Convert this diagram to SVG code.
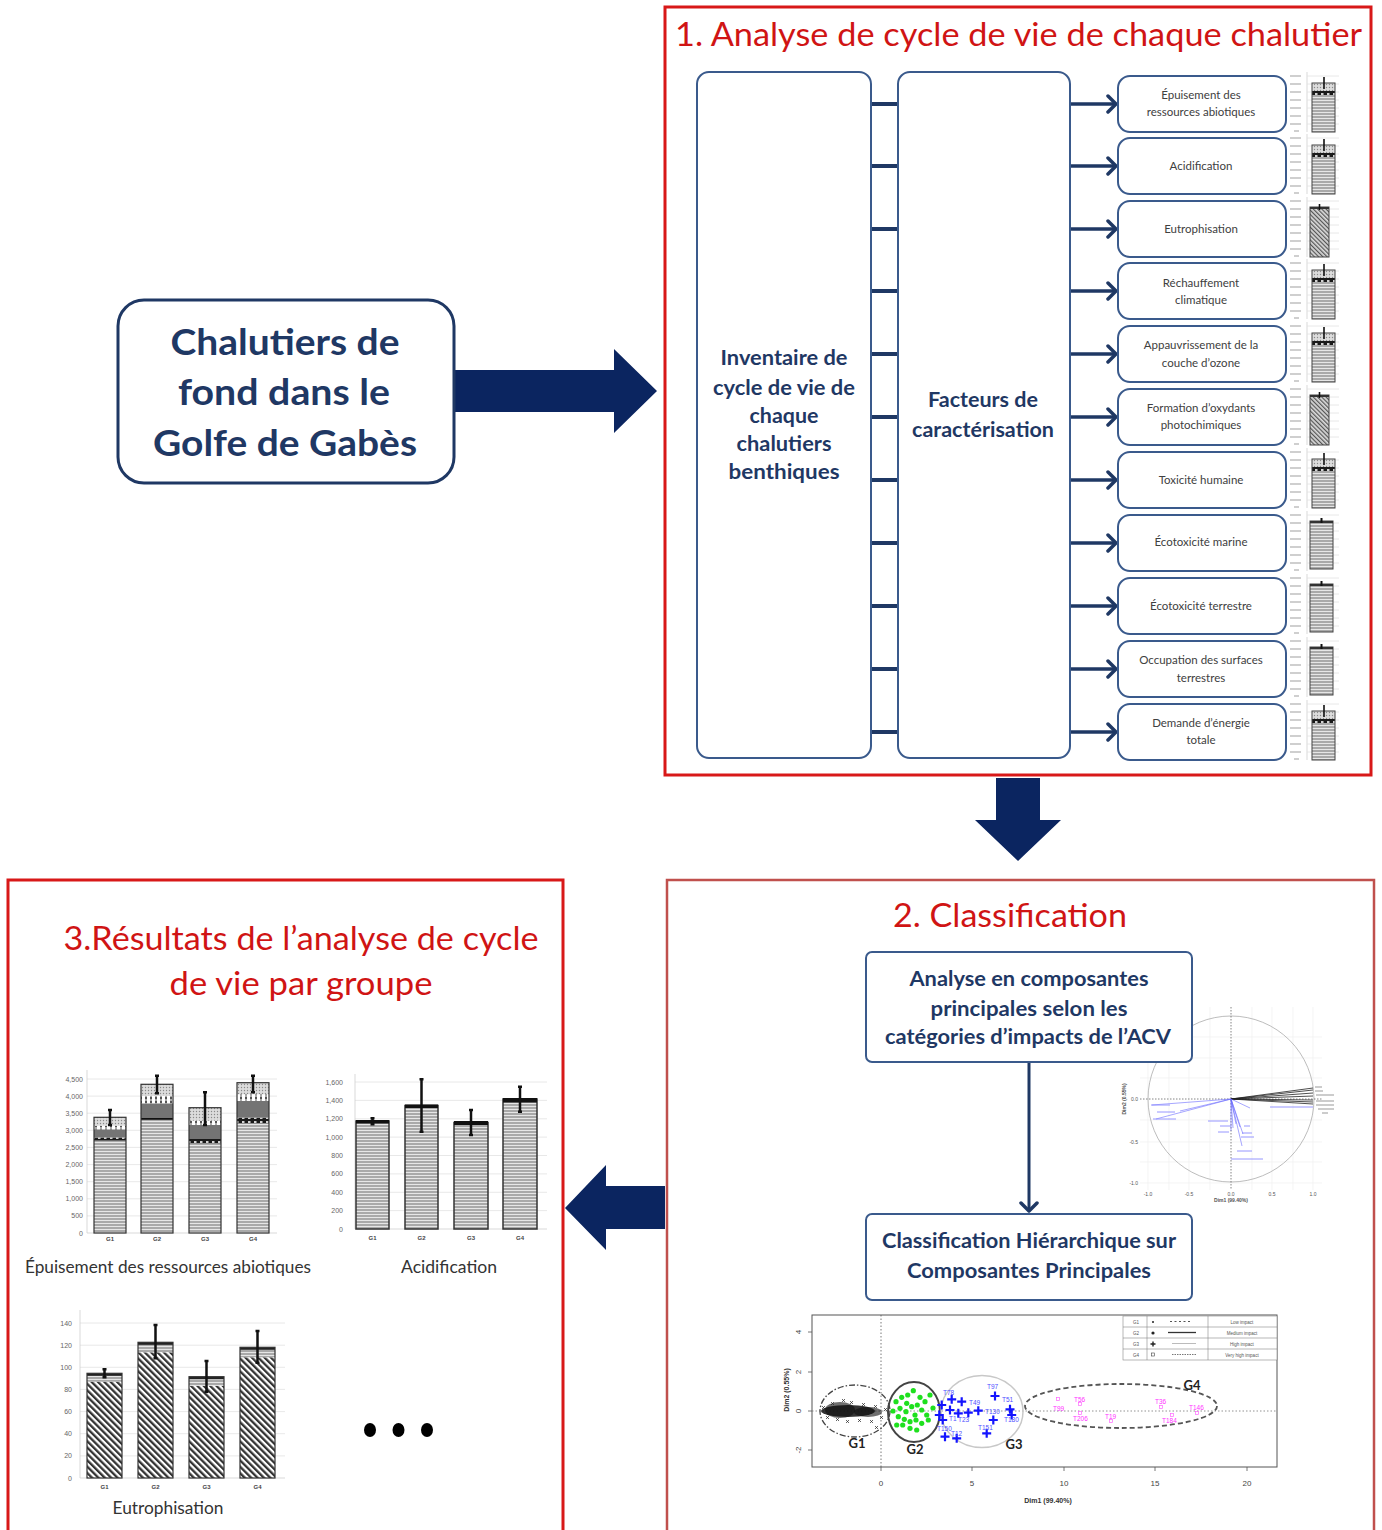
<svg xmlns="http://www.w3.org/2000/svg" width="1382" height="1530" viewBox="0 0 1382 1530">
<style>
.cal{font-family:Lato,"Liberation Sans",sans-serif}
.title{font-family:Lato,"Liberation Sans",sans-serif;fill:#d01414;font-size:32px}
.frameR{fill:none;stroke:#d81818;stroke-width:3}
.frameB{fill:none;stroke:#c0504d;stroke-width:2.5}
.nb{fill:#fff;stroke:#3a5a8c;stroke-width:2}
.nbt{font-family:Lato,"Liberation Sans",sans-serif;font-weight:bold;fill:#1f3864;text-anchor:middle}
.imp{font-family:Lato,"Liberation Sans",sans-serif;fill:#404040;font-size:11.5px;text-anchor:middle}
.conn{stroke:#1f3864;stroke-width:4;fill:none}
.arr{stroke:#1f3864;stroke-width:3.5;fill:none;marker-end:url(#chev)}
.big{fill:#0b2560}
.grid{stroke:#e2e2e2;stroke-width:0.8}
.ax{stroke:#cfcfcf;stroke-width:0.8}
.tl{font-family:"Liberation Sans",sans-serif;font-size:7px;fill:#666;text-anchor:end}
.xl{font-family:"Liberation Sans",sans-serif;font-size:6px;fill:#444;text-anchor:middle;font-weight:bold}
.cap{font-family:Lato,"Liberation Sans",sans-serif;font-size:17px;fill:#333;text-anchor:middle}
.err{stroke:#111;stroke-width:2.5}
.bo{fill:none;stroke:#333;stroke-width:1.2}
.mt{fill:#c4c4c4}
.tiny{font-family:"Liberation Sans",sans-serif;font-size:5px;fill:#555}
</style>
<defs>
<marker id="chev" viewBox="0 0 12 20" refX="10" refY="10" markerWidth="12" markerHeight="20" markerUnits="userSpaceOnUse" orient="auto">
<path d="M2,2 L10,10 L2,18" fill="none" stroke="#1f3864" stroke-width="3.5" stroke-linecap="round" stroke-linejoin="round"/>
</marker>
<pattern id="hs" width="4" height="3" patternUnits="userSpaceOnUse"><rect width="4" height="3" fill="#a9a9a9"/><rect y="2" width="4" height="1" fill="#e6e6e6"/></pattern>
<pattern id="diag" width="4.5" height="4.5" patternUnits="userSpaceOnUse" patternTransform="rotate(-45)"><rect width="4.5" height="4.5" fill="#fff"/><rect width="2.3" height="4.5" fill="#333"/></pattern>
<pattern id="diagS" width="3" height="3" patternUnits="userSpaceOnUse" patternTransform="rotate(-45)"><rect width="3" height="3" fill="#d8d8d8"/><rect width="1.2" height="3" fill="#555"/></pattern>
<pattern id="dots" width="3" height="3" patternUnits="userSpaceOnUse"><rect width="3" height="3" fill="#dcdcdc"/><circle cx="1.5" cy="1.5" r="0.7" fill="#8a8a8a"/></pattern>
<pattern id="wd" width="5" height="4" patternUnits="userSpaceOnUse"><rect width="5" height="4" fill="#fff"/><rect x="0" y="0.5" width="2" height="3" fill="#555"/></pattern>
<pattern id="bd" width="6" height="4" patternUnits="userSpaceOnUse"><rect width="6" height="4" fill="#1a1a1a"/><rect x="2" y="1.2" width="2.5" height="1.6" fill="#fff"/></pattern>
<g id="mticks">
<line class="ax" x1="0" y1="-32" x2="0" y2="28"/>
<g class="grid"><line x1="0" y1="-28" x2="32" y2="-28"/><line x1="0" y1="-20" x2="32" y2="-20"/><line x1="0" y1="-12" x2="32" y2="-12"/><line x1="0" y1="-4" x2="32" y2="-4"/><line x1="0" y1="4" x2="32" y2="4"/><line x1="0" y1="12" x2="32" y2="12"/><line x1="0" y1="20" x2="32" y2="20"/></g>
<g class="mt"><rect x="-17" y="-28.8" width="11" height="1.6"/><rect x="-17" y="-20.8" width="11" height="1.6"/><rect x="-17" y="-12.8" width="11" height="1.6"/><rect x="-17" y="-4.8" width="11" height="1.6"/><rect x="-17" y="3.2" width="11" height="1.6"/><rect x="-17" y="11.2" width="11" height="1.6"/><rect x="-17" y="19.2" width="11" height="1.6"/><rect x="-13" y="26.2" width="5" height="1.6"/></g>
</g>
<g id="barS">
<use href="#mticks"/>
<rect x="5" y="-21" width="23" height="49" fill="url(#hs)"/>
<rect x="5" y="-21" width="23" height="8" fill="url(#dots)"/>
<rect x="5" y="-13" width="23" height="4" fill="url(#bd)"/>
<rect x="5" y="-21" width="23" height="49" fill="none" stroke="#444" stroke-width="1"/>
<line x1="17" y1="-27" x2="17" y2="-15" stroke="#111" stroke-width="1.6"/>
</g>
<g id="barH">
<use href="#mticks"/>
<rect x="3" y="-22" width="19" height="50" fill="url(#diagS)" stroke="#444" stroke-width="1"/>
<rect x="3" y="-22" width="19" height="2" fill="#333"/>
<line x1="12.5" y1="-25" x2="12.5" y2="-19" stroke="#111" stroke-width="1.6"/>
</g>
<g id="barP">
<use href="#mticks"/>
<rect x="3" y="-22" width="23" height="48" fill="url(#hs)" stroke="#444" stroke-width="1"/>
<rect x="3" y="-22" width="23" height="2" fill="#333"/>
<line x1="14.5" y1="-25" x2="14.5" y2="-20" stroke="#111" stroke-width="2"/>
</g>
</defs>
<rect width="1382" height="1530" fill="#fff"/>

<!-- Frames -->
<g id="frame1">
<rect class="frameR" x="665" y="7" width="706" height="768"/>
<text class="title" x="675" y="46" textLength="687" lengthAdjust="spacingAndGlyphs">1. Analyse de cycle de vie de chaque chalutier</text>
</g>
<g id="frame2">
<rect class="frameB" x="667" y="880" width="707" height="700"/>
<text class="title" x="1010" y="927" text-anchor="middle" textLength="234" lengthAdjust="spacingAndGlyphs">2. Classification</text>
</g>
<g id="frame3">
<rect class="frameR" x="8" y="880" width="555" height="700"/>
<text class="title" x="301" y="950" text-anchor="middle" textLength="475" lengthAdjust="spacingAndGlyphs">3.Résultats de l’analyse de cycle</text>
<text class="title" x="301" y="995" text-anchor="middle" textLength="263" lengthAdjust="spacingAndGlyphs">de vie par groupe</text>
</g>

<!-- Connectors -->
<g id="connectors">
<polygon class="big" points="454,370 614,370 614,349 657,391 614,433 614,412 454,412"/>
<polygon class="big" points="996,778 1040,778 1040,820 1061,820 1018,861 975,820 996,820"/>
<polygon class="big" points="665,1186 606,1186 606,1165 565,1208 606,1250 606,1229 665,1229"/>
<g class="conn">
<line x1="871" y1="104" x2="898" y2="104"/><line x1="871" y1="166" x2="898" y2="166"/><line x1="871" y1="229" x2="898" y2="229"/><line x1="871" y1="291" x2="898" y2="291"/><line x1="871" y1="354" x2="898" y2="354"/><line x1="871" y1="417" x2="898" y2="417"/><line x1="871" y1="480" x2="898" y2="480"/><line x1="871" y1="543" x2="898" y2="543"/><line x1="871" y1="606" x2="898" y2="606"/><line x1="871" y1="669" x2="898" y2="669"/><line x1="871" y1="732" x2="898" y2="732"/>
</g>
<g class="arr">
<line x1="1070" y1="104" x2="1116" y2="104"/><line x1="1070" y1="166" x2="1116" y2="166"/><line x1="1070" y1="229" x2="1116" y2="229"/><line x1="1070" y1="291" x2="1116" y2="291"/><line x1="1070" y1="354" x2="1116" y2="354"/><line x1="1070" y1="417" x2="1116" y2="417"/><line x1="1070" y1="480" x2="1116" y2="480"/><line x1="1070" y1="543" x2="1116" y2="543"/><line x1="1070" y1="606" x2="1116" y2="606"/><line x1="1070" y1="669" x2="1116" y2="669"/><line x1="1070" y1="732" x2="1116" y2="732"/>
</g>
<line x1="1029" y1="1062" x2="1029" y2="1211" stroke="#1f3864" stroke-width="3" marker-end="url(#chev)"/>
</g>

<!-- Left node -->
<g id="node-chalutiers">
<rect x="118" y="300" width="336" height="183" rx="26" fill="#fff" stroke="#1f3864" stroke-width="3"/>
<text class="nbt" x="285" y="355" font-size="36" textLength="229" lengthAdjust="spacingAndGlyphs">Chalutiers de</text>
<text class="nbt" x="284" y="405" font-size="36" textLength="212" lengthAdjust="spacingAndGlyphs">fond dans le</text>
<text class="nbt" x="285" y="456" font-size="36" textLength="264" lengthAdjust="spacingAndGlyphs">Golfe de Gabès</text>
</g>

<g id="node-inventaire">
<rect class="nb" x="697" y="72" width="174" height="686" rx="12"/>
<text class="nbt" x="784" y="365" font-size="20" textLength="127" lengthAdjust="spacingAndGlyphs">Inventaire de</text>
<text class="nbt" x="784" y="395" font-size="20" textLength="142" lengthAdjust="spacingAndGlyphs">cycle de vie de</text>
<text class="nbt" x="784" y="423" font-size="20" textLength="69" lengthAdjust="spacingAndGlyphs">chaque</text>
<text class="nbt" x="784" y="451" font-size="20" textLength="95" lengthAdjust="spacingAndGlyphs">chalutiers</text>
<text class="nbt" x="784" y="479" font-size="20" textLength="111" lengthAdjust="spacingAndGlyphs">benthiques</text>
</g>
<g id="node-facteurs">
<rect class="nb" x="898" y="72" width="172" height="686" rx="12"/>
<text class="nbt" x="983" y="407" font-size="20" textLength="110" lengthAdjust="spacingAndGlyphs">Facteurs de</text>
<text class="nbt" x="983" y="437" font-size="20" textLength="142" lengthAdjust="spacingAndGlyphs">caractérisation</text>
</g>

<!-- Impact nodes -->
<g id="imp1"><rect class="nb" x="1118" y="76" width="168" height="56" rx="12"/><text class="imp" x="1201" y="99">Épuisement des</text><text class="imp" x="1201" y="116">ressources abiotiques</text></g>
<g id="imp2"><rect class="nb" x="1118" y="138" width="168" height="56" rx="12"/><text class="imp" x="1201" y="170">Acidification</text></g>
<g id="imp3"><rect class="nb" x="1118" y="201" width="168" height="56" rx="12"/><text class="imp" x="1201" y="233">Eutrophisation</text></g>
<g id="imp4"><rect class="nb" x="1118" y="263" width="168" height="56" rx="12"/><text class="imp" x="1201" y="287">Réchauffement</text><text class="imp" x="1201" y="304">climatique</text></g>
<g id="imp5"><rect class="nb" x="1118" y="326" width="168" height="56" rx="12"/><text class="imp" x="1201" y="349">Appauvrissement de la</text><text class="imp" x="1201" y="367">couche d’ozone</text></g>
<g id="imp6"><rect class="nb" x="1118" y="389" width="168" height="56" rx="12"/><text class="imp" x="1201" y="412">Formation d’oxydants</text><text class="imp" x="1201" y="429">photochimiques</text></g>
<g id="imp7"><rect class="nb" x="1118" y="452" width="168" height="56" rx="12"/><text class="imp" x="1201" y="484">Toxicité humaine</text></g>
<g id="imp8"><rect class="nb" x="1118" y="515" width="168" height="56" rx="12"/><text class="imp" x="1201" y="546">Écotoxicité marine</text></g>
<g id="imp9"><rect class="nb" x="1118" y="578" width="168" height="56" rx="12"/><text class="imp" x="1201" y="610">Écotoxicité terrestre</text></g>
<g id="imp10"><rect class="nb" x="1118" y="641" width="168" height="56" rx="12"/><text class="imp" x="1201" y="664">Occupation des surfaces</text><text class="imp" x="1201" y="682">terrestres</text></g>
<g id="imp11"><rect class="nb" x="1118" y="704" width="168" height="56" rx="12"/><text class="imp" x="1201" y="727">Demande d’énergie</text><text class="imp" x="1201" y="744">totale</text></g>

<!-- Mini charts -->
<g id="minicharts">
<use href="#barS" x="1307" y="104"/>
<use href="#barS" x="1307" y="166"/>
<use href="#barH" x="1307" y="229"/>
<use href="#barS" x="1307" y="291"/>
<use href="#barS" x="1307" y="354"/>
<use href="#barH" x="1307" y="417"/>
<use href="#barS" x="1307" y="480"/>
<use href="#barP" x="1307" y="543"/>
<use href="#barP" x="1307" y="606"/>
<use href="#barP" x="1307" y="669"/>
<use href="#barS" x="1307" y="732"/>
</g>

<!-- PCA correlation circle -->
<g id="pca-circle">
<g stroke="#efefef" stroke-width="0.7">
<line x1="1140" y1="1037" x2="1322" y2="1037"/><line x1="1140" y1="1058" x2="1322" y2="1058"/><line x1="1140" y1="1078" x2="1322" y2="1078"/><line x1="1140" y1="1120" x2="1322" y2="1120"/><line x1="1140" y1="1142" x2="1322" y2="1142"/><line x1="1140" y1="1162" x2="1322" y2="1162"/><line x1="1140" y1="1183" x2="1322" y2="1183"/>
<line x1="1148" y1="1007" x2="1148" y2="1190"/><line x1="1169" y1="1007" x2="1169" y2="1190"/><line x1="1189" y1="1007" x2="1189" y2="1190"/><line x1="1210" y1="1007" x2="1210" y2="1190"/><line x1="1252" y1="1007" x2="1252" y2="1190"/><line x1="1272" y1="1007" x2="1272" y2="1190"/><line x1="1293" y1="1007" x2="1293" y2="1190"/><line x1="1313" y1="1007" x2="1313" y2="1190"/>
</g>
<circle cx="1231" cy="1099" r="83" fill="none" stroke="#bdbdbd" stroke-width="1"/>
<line x1="1140" y1="1099" x2="1322" y2="1099" stroke="#666" stroke-width="0.8" stroke-dasharray="1.5,1.5"/>
<line x1="1231" y1="1007" x2="1231" y2="1190" stroke="#666" stroke-width="0.8" stroke-dasharray="1.5,1.5"/>
<g stroke="#222" stroke-width="0.8">
<line x1="1231" y1="1099" x2="1313" y2="1088"/><line x1="1231" y1="1099" x2="1313" y2="1090"/><line x1="1231" y1="1099" x2="1313" y2="1093"/><line x1="1231" y1="1099" x2="1313" y2="1096"/><line x1="1231" y1="1099" x2="1313" y2="1100"/><line x1="1231" y1="1099" x2="1313" y2="1102"/><line x1="1231" y1="1099" x2="1313" y2="1104"/>
</g>
<g stroke="#555" stroke-width="0.6"><line x1="1315" y1="1087" x2="1322" y2="1087"/><line x1="1315" y1="1091" x2="1323" y2="1091"/><line x1="1316" y1="1095" x2="1334" y2="1095"/><line x1="1316" y1="1101" x2="1334" y2="1101"/><line x1="1316" y1="1105" x2="1334" y2="1105"/><line x1="1318" y1="1109" x2="1334" y2="1109"/><line x1="1322" y1="1113" x2="1328" y2="1113"/></g>
<g stroke="#6a6aff" stroke-width="0.6">
<line x1="1231" y1="1099" x2="1152" y2="1105"/><line x1="1231" y1="1099" x2="1180" y2="1111"/><line x1="1231" y1="1099" x2="1156" y2="1119"/>
<line x1="1231" y1="1099" x2="1236" y2="1124"/><line x1="1231" y1="1099" x2="1233" y2="1128"/><line x1="1231" y1="1099" x2="1231" y2="1131"/>
<line x1="1231" y1="1099" x2="1240" y2="1127"/><line x1="1231" y1="1099" x2="1243" y2="1134"/><line x1="1231" y1="1099" x2="1242" y2="1146"/><line x1="1231" y1="1099" x2="1250" y2="1108"/>
</g>
<g stroke="#8a8aff" stroke-width="0.9"><line x1="1151" y1="1105" x2="1170" y2="1105"/><line x1="1157" y1="1112" x2="1175" y2="1112"/><line x1="1153" y1="1119" x2="1176" y2="1119"/><line x1="1208" y1="1121" x2="1228" y2="1121"/><line x1="1220" y1="1126" x2="1231" y2="1126"/><line x1="1218" y1="1132" x2="1229" y2="1132"/><line x1="1244" y1="1126" x2="1250" y2="1126"/><line x1="1242" y1="1133" x2="1252" y2="1133"/><line x1="1241" y1="1137" x2="1254" y2="1137"/><line x1="1237" y1="1151" x2="1252" y2="1151"/><line x1="1231" y1="1159" x2="1263" y2="1159"/><line x1="1270" y1="1107" x2="1313" y2="1107"/></g>
<text class="tiny" x="1148" y="1196" text-anchor="middle">-1.0</text><text class="tiny" x="1189" y="1196" text-anchor="middle">-0.5</text><text class="tiny" x="1231" y="1196" text-anchor="middle">0.0</text><text class="tiny" x="1272" y="1196" text-anchor="middle">0.5</text><text class="tiny" x="1313" y="1196" text-anchor="middle">1.0</text>
<text class="tiny" x="1138" y="1101" text-anchor="end">0.0</text><text class="tiny" x="1138" y="1144" text-anchor="end">-0.5</text><text class="tiny" x="1138" y="1185" text-anchor="end">-1.0</text>
<text class="tiny" x="1231" y="1202" text-anchor="middle" font-weight="bold">Dim1 (99.40%)</text>
<text class="tiny" x="1126" y="1099" text-anchor="middle" font-weight="bold" transform="rotate(-90 1126 1099)">Dim2 (0.55%)</text>
</g>

<g id="node-acp">
<rect class="nb" x="866" y="952" width="326" height="110" rx="6"/>
<text class="nbt" x="1029" y="986" font-size="20" textLength="239" lengthAdjust="spacingAndGlyphs">Analyse en composantes</text>
<text class="nbt" x="1029" y="1016" font-size="20" textLength="197" lengthAdjust="spacingAndGlyphs">principales selon les</text>
<text class="nbt" x="1028" y="1044" font-size="20" textLength="286" lengthAdjust="spacingAndGlyphs">catégories d’impacts  de l’ACV</text>
</g>
<g id="node-chcp">
<rect class="nb" x="866" y="1214" width="326" height="86" rx="6"/>
<text class="nbt" x="1029" y="1248" font-size="20" textLength="294" lengthAdjust="spacingAndGlyphs">Classification Hiérarchique sur</text>
<text class="nbt" x="1029" y="1278" font-size="20" textLength="244" lengthAdjust="spacingAndGlyphs">Composantes Principales</text>
</g>

<!-- Cluster plot -->
<g id="cluster-plot">
<rect x="812" y="1315" width="465" height="152" fill="#fff" stroke="#555" stroke-width="1"/>
<line x1="881" y1="1315" x2="881" y2="1467" stroke="#555" stroke-width="0.8" stroke-dasharray="1.5,2"/>
<line x1="812" y1="1411" x2="1277" y2="1411" stroke="#777" stroke-width="0.8" stroke-dasharray="1.5,2"/>
<g stroke="#555" stroke-width="0.8">
<line x1="881" y1="1467" x2="881" y2="1471"/><line x1="972" y1="1467" x2="972" y2="1471"/><line x1="1064" y1="1467" x2="1064" y2="1471"/><line x1="1155" y1="1467" x2="1155" y2="1471"/><line x1="1247" y1="1467" x2="1247" y2="1471"/>
<line x1="808" y1="1332" x2="812" y2="1332"/><line x1="808" y1="1372" x2="812" y2="1372"/><line x1="808" y1="1411" x2="812" y2="1411"/><line x1="808" y1="1450" x2="812" y2="1450"/>
</g>
<g font-family="Liberation Sans, sans-serif" font-size="8" fill="#444" text-anchor="middle">
<text x="881" y="1486">0</text><text x="972" y="1486">5</text><text x="1064" y="1486">10</text><text x="1155" y="1486">15</text><text x="1247" y="1486">20</text>
<text x="801" y="1332" transform="rotate(-90 801 1332)">4</text><text x="801" y="1372" transform="rotate(-90 801 1372)">2</text><text x="801" y="1411" transform="rotate(-90 801 1411)">0</text><text x="801" y="1450" transform="rotate(-90 801 1450)">-2</text>
</g>
<text x="1048" y="1503" font-family="Liberation Sans, sans-serif" font-size="7" font-weight="bold" fill="#333" text-anchor="middle">Dim1 (99.40%)</text>
<text x="789" y="1390" font-family="Liberation Sans, sans-serif" font-size="7" font-weight="bold" fill="#333" text-anchor="middle" transform="rotate(-90 789 1390)">Dim2 (0.55%)</text>
<!-- legend -->
<g stroke="#888" stroke-width="0.6" fill="none">
<rect x="1123" y="1316" width="154" height="44" fill="#fff"/>
<line x1="1123" y1="1327" x2="1277" y2="1327"/><line x1="1123" y1="1338" x2="1277" y2="1338"/><line x1="1123" y1="1349" x2="1277" y2="1349"/>
<line x1="1147" y1="1316" x2="1147" y2="1360"/><line x1="1208" y1="1316" x2="1208" y2="1360"/>
</g>
<g font-family="Liberation Sans, sans-serif" font-size="4.5" fill="#555">
<text x="1133" y="1323.5">G1</text><text x="1133" y="1334.5">G2</text><text x="1133" y="1345.5">G3</text><text x="1133" y="1356.5">G4</text>
<text x="1242" y="1323.5" text-anchor="middle">Low impact</text><text x="1242" y="1334.5" text-anchor="middle">Medium impact</text><text x="1242" y="1345.5" text-anchor="middle">High impact</text><text x="1242" y="1356.5" text-anchor="middle">Very high impact</text>
</g>
<circle cx="1153" cy="1322" r="1" fill="#222"/><circle cx="1153" cy="1333" r="1.6" fill="#222"/>
<path d="M1153,1341.5 V1346.5 M1150.5,1344 H1155.5" stroke="#222" stroke-width="1.4"/>
<rect x="1151.5" y="1353" width="3" height="3" fill="none" stroke="#444" stroke-width="0.6"/>
<line x1="1170" y1="1321.5" x2="1190" y2="1321.5" stroke="#555" stroke-width="1.2" stroke-dasharray="2,2.5"/>
<line x1="1168" y1="1332.5" x2="1196" y2="1332.5" stroke="#333" stroke-width="1.3"/>
<line x1="1172" y1="1343.5" x2="1196" y2="1343.5" stroke="#aaa" stroke-width="0.8"/>
<line x1="1172" y1="1354.5" x2="1196" y2="1354.5" stroke="#777" stroke-width="1" stroke-dasharray="1.5,1"/>
<!-- ellipses -->
<ellipse cx="855" cy="1411" rx="35" ry="26" fill="none" stroke="#444" stroke-width="1.3" stroke-dasharray="6,2,1.5,2"/>
<ellipse cx="914" cy="1412" rx="26" ry="30" fill="none" stroke="#444" stroke-width="2"/>
<ellipse cx="982" cy="1411.5" rx="41" ry="36" fill="none" stroke="#c8c8c8" stroke-width="1.5"/>
<ellipse cx="1121" cy="1406" rx="96" ry="22" fill="none" stroke="#555" stroke-width="1.8" stroke-dasharray="5,3"/>
<!-- G1 points -->
<g fill="#111">
<ellipse cx="848" cy="1411" rx="27" ry="6" opacity="0.85"/>
<ellipse cx="840" cy="1410" rx="15" ry="8" opacity="0.6"/>
<ellipse cx="868" cy="1412" rx="14" ry="5" opacity="0.6"/>
</g>
<g stroke="#222" stroke-width="0.7">
<path d="M822,1406 l3,3 M825,1406 l-3,3 M831,1402 l3,3 M834,1402 l-3,3 M850,1401 l3,3 M853,1401 l-3,3 M862,1403 l3,3 M865,1403 l-3,3 M874,1405 l3,3 M877,1405 l-3,3 M884,1408 l3,3 M887,1408 l-3,3 M836,1418 l3,3 M839,1418 l-3,3 M846,1420 l3,3 M849,1420 l-3,3 M858,1419 l3,3 M861,1419 l-3,3 M870,1420 l3,3 M873,1420 l-3,3 M880,1416 l3,3 M883,1416 l-3,3 M875,1426 l3,3 M878,1426 l-3,3 M826,1416 l3,3 M829,1416 l-3,3 M842,1399 l3,3 M845,1399 l-3,3"/>
</g>
<!-- G2 points -->
<g fill="#1ee01e">
<circle cx="896" cy="1401.7" r="2.6"/><circle cx="901.7" cy="1397.3" r="2.6"/><circle cx="907.7" cy="1395" r="2.6"/><circle cx="913.3" cy="1390.7" r="2.6"/><circle cx="920" cy="1397.3" r="2.6"/><circle cx="925" cy="1401.7" r="2.6"/><circle cx="930" cy="1395" r="2.6"/><circle cx="900" cy="1408.3" r="2.6"/><circle cx="906" cy="1411.7" r="2.6"/><circle cx="911.7" cy="1406.7" r="2.6"/><circle cx="917.3" cy="1405" r="2.6"/><circle cx="921.7" cy="1410" r="2.6"/><circle cx="926.7" cy="1415" r="2.6"/><circle cx="898.3" cy="1416.7" r="2.6"/><circle cx="904.3" cy="1419.3" r="2.6"/><circle cx="910" cy="1421.7" r="2.6"/><circle cx="916" cy="1420" r="2.6"/><circle cx="921.7" cy="1423.3" r="2.6"/><circle cx="928.3" cy="1420" r="2.6"/><circle cx="902.7" cy="1425" r="2.6"/><circle cx="910" cy="1428.3" r="2.6"/><circle cx="916.7" cy="1430" r="2.6"/><circle cx="896.7" cy="1425" r="2.6"/><circle cx="906.7" cy="1403.3" r="2.6"/><circle cx="915" cy="1415" r="2.6"/><circle cx="893" cy="1411" r="2.6"/><circle cx="933" cy="1408" r="2.6"/>
</g>
<!-- G3 points -->
<g stroke="#1414ff" stroke-width="2.2">
<path d="M951.7,1394.8 v9 M947.2,1399.3 h9 M961.7,1397.2 v9 M957.2,1401.7 h9 M941.7,1400.5 v9 M937.2,1405 h9 M950,1405.5 v9 M945.5,1410 h9 M958.3,1408.8 v9 M953.8,1413.3 h9 M968.3,1408.2 v9 M963.8,1412.7 h9 M978.3,1406.2 v9 M973.8,1410.7 h9 M995,1391.5 v9 M990.5,1396 h9 M1010,1404.8 v9 M1005.5,1409.3 h9 M1011.7,1410.5 v9 M1007.2,1415 h9 M993.3,1415.5 v9 M988.8,1420 h9 M986.7,1428.8 v9 M982.2,1433.3 h9 M956.7,1433.8 v9 M952.2,1438.3 h9 M942.7,1415.5 v9 M938.2,1420 h9 M945,1432.2 v9 M940.5,1436.7 h9 M939.3,1410.5 v9 M934.8,1415 h9"/>
</g>
<g font-family="Liberation Sans, sans-serif" font-size="6.5" fill="#5050ff">
<text x="943" y="1395">T78</text><text x="987" y="1389">T97</text><text x="1002" y="1402">T51</text><text x="969" y="1405">T49</text><text x="958" y="1422">T23</text><text x="985" y="1414">T130</text><text x="1004" y="1422">T180</text><text x="978" y="1430">T151</text><text x="951" y="1436">T12</text><text x="937" y="1431">T150</text><text x="949" y="1421">T1</text>
</g>
<!-- G4 points -->
<g fill="none" stroke="#ff66ff" stroke-width="0.7">
<rect x="1056.5" y="1397.5" width="3" height="3"/><rect x="1078.5" y="1402.5" width="3" height="3"/><rect x="1078.5" y="1411.5" width="3" height="3"/><rect x="1109.5" y="1419.5" width="3" height="3"/><rect x="1159.5" y="1405.5" width="3" height="3"/><rect x="1170.5" y="1413.5" width="3" height="3"/><rect x="1195.5" y="1411.5" width="3" height="3"/>
</g>
<g font-family="Liberation Sans, sans-serif" font-size="6.5" fill="#ff33ff">
<text x="1053" y="1411">T99</text><text x="1074" y="1402">T56</text><text x="1073" y="1421">T206</text><text x="1105" y="1419">T19</text><text x="1155" y="1404">T36</text><text x="1162" y="1423">T184</text><text x="1189" y="1410">T146</text>
</g>
<g font-family="Lato, Liberation Sans, sans-serif" font-size="13" font-weight="bold" fill="#222" text-anchor="middle">
<text x="857" y="1448">G1</text><text x="915" y="1454">G2</text><text x="1014" y="1449">G3</text><text x="1192" y="1390">G4</text>
</g>
</g>

<!-- Chart 1: Épuisement -->
<g id="chart-epuisement">
<g class="grid">
<line x1="87" y1="1215.9" x2="277" y2="1215.9"/><line x1="87" y1="1198.8" x2="277" y2="1198.8"/><line x1="87" y1="1181.7" x2="277" y2="1181.7"/><line x1="87" y1="1164.6" x2="277" y2="1164.6"/><line x1="87" y1="1147.4" x2="277" y2="1147.4"/><line x1="87" y1="1130.3" x2="277" y2="1130.3"/><line x1="87" y1="1113.2" x2="277" y2="1113.2"/><line x1="87" y1="1096.1" x2="277" y2="1096.1"/><line x1="87" y1="1079" x2="277" y2="1079"/>
</g>
<line class="ax" x1="87" y1="1070" x2="87" y2="1233"/><line class="ax" x1="87" y1="1233" x2="277" y2="1233"/>
<g class="tl">
<text x="83" y="1235.5">0</text><text x="83" y="1218.4">500</text><text x="83" y="1201.3">1,000</text><text x="83" y="1184.2">1,500</text><text x="83" y="1167.1">2,000</text><text x="83" y="1149.9">2,500</text><text x="83" y="1132.8">3,000</text><text x="83" y="1115.7">3,500</text><text x="83" y="1098.6">4,000</text><text x="83" y="1081.5">4,500</text>
</g>
<!-- G1 -->
<rect x="94" y="1140.6" width="32" height="92.4" fill="url(#hs)"/>
<rect x="94" y="1137.5" width="32" height="3.1" fill="url(#bd)"/>
<rect x="94" y="1129.3" width="32" height="8.2" fill="#747474"/>
<rect x="94" y="1125.7" width="32" height="3.6" fill="url(#wd)"/>
<rect x="94" y="1117.3" width="32" height="8.4" fill="url(#dots)"/>
<rect class="bo" x="94" y="1117.3" width="32" height="115.7"/>
<!-- G2 -->
<rect x="141" y="1119.3" width="32" height="113.7" fill="url(#hs)"/>
<rect x="141" y="1118" width="32" height="1.8" fill="#111"/>
<rect x="141" y="1103.3" width="32" height="14.7" fill="#747474"/>
<rect x="141" y="1096" width="32" height="7.3" fill="url(#wd)"/>
<rect x="141" y="1084.3" width="32" height="11.7" fill="url(#dots)"/>
<rect class="bo" x="141" y="1084.3" width="32" height="148.7"/>
<!-- G3 -->
<rect x="189" y="1143.3" width="32" height="89.7" fill="url(#hs)"/>
<rect x="189" y="1139" width="32" height="4.3" fill="url(#bd)"/>
<rect x="189" y="1125" width="32" height="14" fill="#747474"/>
<rect x="189" y="1120.7" width="32" height="4.3" fill="url(#wd)"/>
<rect x="189" y="1107.7" width="32" height="13" fill="url(#dots)"/>
<rect class="bo" x="189" y="1107.7" width="32" height="125.3"/>
<!-- G4 -->
<rect x="237" y="1123.3" width="32" height="109.7" fill="url(#hs)"/>
<rect x="237" y="1117.7" width="32" height="5.6" fill="url(#bd)"/>
<rect x="237" y="1101" width="32" height="16.7" fill="#747474"/>
<rect x="237" y="1094.3" width="32" height="6.7" fill="url(#wd)"/>
<rect x="237" y="1082.7" width="32" height="11.6" fill="url(#dots)"/>
<rect class="bo" x="237" y="1082.7" width="32" height="150.3"/>
<g class="err">
<path d="M110,1110 V1125 M108,1110 h4 M108,1125 h4"/>
<path d="M157,1075.7 V1093.3 M155,1075.7 h4 M155,1093.3 h4"/>
<path d="M205,1092.3 V1125 M203,1092.3 h4 M203,1125 h4"/>
<path d="M253,1075.7 V1092.3 M251,1075.7 h4 M251,1092.3 h4"/>
</g>
<g class="xl"><text x="110" y="1241">G1</text><text x="157" y="1241">G2</text><text x="205" y="1241">G3</text><text x="253" y="1241">G4</text></g>
<text class="cap" x="168" y="1273" textLength="286" lengthAdjust="spacingAndGlyphs">Épuisement des ressources abiotiques</text>
</g>

<!-- Chart 2: Acidification -->
<g id="chart-acidification">
<g class="grid">
<line x1="355" y1="1210.6" x2="547" y2="1210.6"/><line x1="355" y1="1192.3" x2="547" y2="1192.3"/><line x1="355" y1="1173.9" x2="547" y2="1173.9"/><line x1="355" y1="1155.5" x2="547" y2="1155.5"/><line x1="355" y1="1137.1" x2="547" y2="1137.1"/><line x1="355" y1="1118.8" x2="547" y2="1118.8"/><line x1="355" y1="1100.4" x2="547" y2="1100.4"/><line x1="355" y1="1082" x2="547" y2="1082"/>
</g>
<line class="ax" x1="355" y1="1074" x2="355" y2="1229"/><line class="ax" x1="355" y1="1229" x2="547" y2="1229"/>
<g class="tl">
<text x="343" y="1231.5">0</text><text x="343" y="1213.1">200</text><text x="343" y="1194.8">400</text><text x="343" y="1176.4">600</text><text x="343" y="1158">800</text><text x="343" y="1139.6">1,000</text><text x="343" y="1121.3">1,200</text><text x="343" y="1102.9">1,400</text><text x="343" y="1084.5">1,600</text>
</g>
<rect x="356" y="1121" width="33" height="108" fill="url(#hs)" stroke="#333" stroke-width="1.5"/><rect x="356" y="1120" width="33" height="3.5" fill="#111"/>
<rect x="405" y="1105.5" width="33" height="123.5" fill="url(#hs)" stroke="#333" stroke-width="1.5"/><rect x="405" y="1104.5" width="33" height="3.5" fill="#111"/>
<rect x="454" y="1122.5" width="34" height="106.5" fill="url(#hs)" stroke="#333" stroke-width="1.5"/><rect x="454" y="1121" width="34" height="4" fill="#111"/>
<rect x="503" y="1099" width="34" height="130" fill="url(#hs)" stroke="#333" stroke-width="1.5"/><rect x="503" y="1098" width="34" height="4.5" fill="#111"/>
<g class="err">
<path d="M372.5,1118.3 V1124.3 M370.5,1118.3 h4 M370.5,1124.3 h4"/>
<path d="M421.5,1079.3 V1131.7 M419.5,1079.3 h4 M419.5,1131.7 h4"/>
<path d="M471,1110 V1135 M469,1110 h4 M469,1135 h4"/>
<path d="M520,1086.7 V1111.7 M518,1086.7 h4 M518,1111.7 h4"/>
</g>
<g class="xl"><text x="372.5" y="1240">G1</text><text x="421.5" y="1240">G2</text><text x="471" y="1240">G3</text><text x="520" y="1240">G4</text></g>
<text class="cap" x="449" y="1273" textLength="96" lengthAdjust="spacingAndGlyphs">Acidification</text>
</g>

<!-- Chart 3: Eutrophisation -->
<g id="chart-eutrophisation">
<g class="grid">
<line x1="80" y1="1455.9" x2="285" y2="1455.9"/><line x1="80" y1="1433.7" x2="285" y2="1433.7"/><line x1="80" y1="1411.6" x2="285" y2="1411.6"/><line x1="80" y1="1389.4" x2="285" y2="1389.4"/><line x1="80" y1="1367.3" x2="285" y2="1367.3"/><line x1="80" y1="1345.2" x2="285" y2="1345.2"/><line x1="80" y1="1323" x2="285" y2="1323"/>
</g>
<line class="ax" x1="80" y1="1310" x2="80" y2="1478"/><line class="ax" x1="80" y1="1478" x2="285" y2="1478"/>
<g class="tl">
<text x="72" y="1480.5">0</text><text x="72" y="1458.4">20</text><text x="72" y="1436.2">40</text><text x="72" y="1414.1">60</text><text x="72" y="1391.9">80</text><text x="72" y="1369.8">100</text><text x="72" y="1347.7">120</text><text x="72" y="1325.5">140</text>
</g>
<rect x="87" y="1381.7" width="35" height="96.3" fill="url(#diag)"/><rect x="87" y="1373.3" width="35" height="8.4" fill="url(#hs)"/><rect x="87" y="1373.3" width="35" height="2.5" fill="#222"/><rect class="bo" x="87" y="1373.3" width="35" height="104.7"/>
<rect x="138" y="1352.3" width="35" height="125.7" fill="url(#diag)"/><rect x="138" y="1342.3" width="35" height="10" fill="url(#hs)"/><rect x="138" y="1342.3" width="35" height="2.5" fill="#222"/><rect class="bo" x="138" y="1342.3" width="35" height="135.7"/>
<rect x="189" y="1385.7" width="35" height="92.3" fill="url(#diag)"/><rect x="189" y="1376.7" width="35" height="9" fill="url(#hs)"/><rect x="189" y="1376.7" width="35" height="2.5" fill="#222"/><rect class="bo" x="189" y="1376.7" width="35" height="101.3"/>
<rect x="240" y="1357.3" width="35" height="120.7" fill="url(#diag)"/><rect x="240" y="1347.3" width="35" height="10" fill="url(#hs)"/><rect x="240" y="1347.3" width="35" height="2.5" fill="#222"/><rect class="bo" x="240" y="1347.3" width="35" height="130.7"/>
<g class="err">
<path d="M104.5,1369.3 V1377.3 M102.5,1369.3 h4 M102.5,1377.3 h4"/>
<path d="M155.5,1325 V1358.3 M153.5,1325 h4 M153.5,1358.3 h4"/>
<path d="M206.5,1361 V1391.7 M204.5,1361 h4 M204.5,1391.7 h4"/>
<path d="M257.5,1331 V1362.7 M255.5,1331 h4 M255.5,1362.7 h4"/>
</g>
<g class="xl"><text x="104.5" y="1489">G1</text><text x="155.5" y="1489">G2</text><text x="206.5" y="1489">G3</text><text x="257.5" y="1489">G4</text></g>
<text class="cap" x="168" y="1514" textLength="111" lengthAdjust="spacingAndGlyphs">Eutrophisation</text>
</g>

<g id="ellipsis" fill="#000">
<ellipse cx="370" cy="1430" rx="6" ry="7"/><ellipse cx="398.5" cy="1430" rx="6" ry="7"/><ellipse cx="427" cy="1430" rx="6" ry="7"/>
</g>
</svg>
